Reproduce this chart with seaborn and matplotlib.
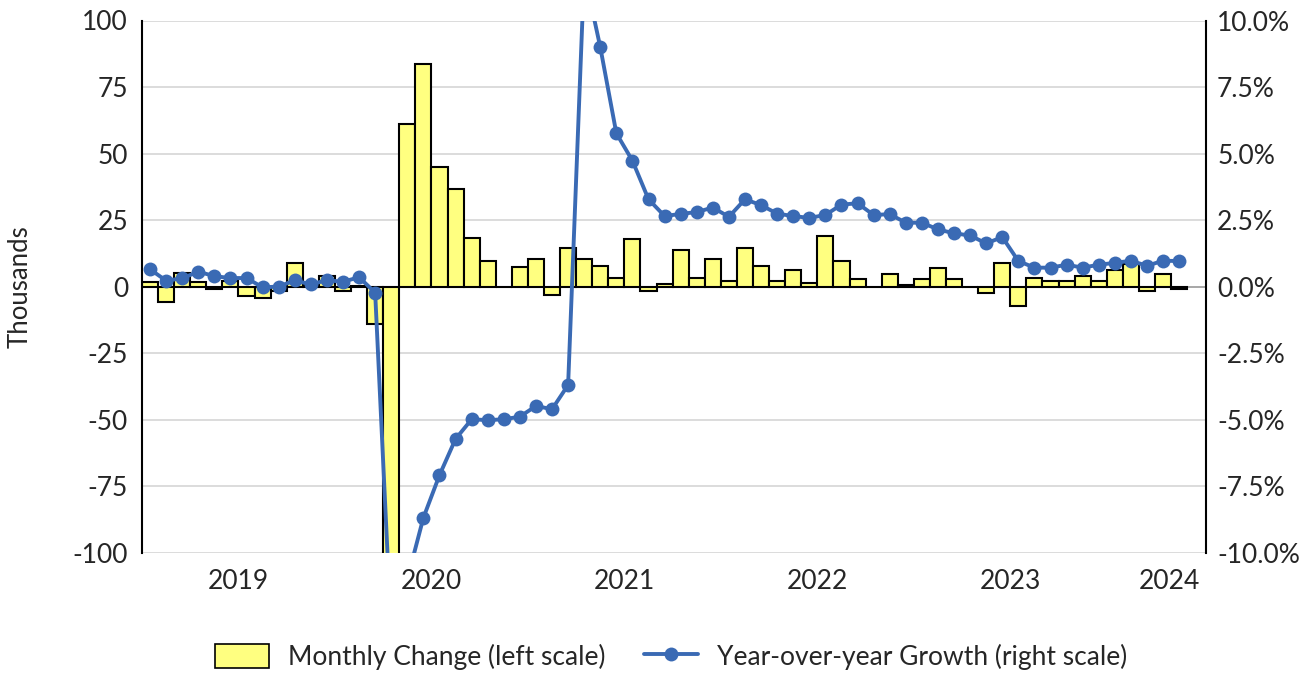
import numpy as np
import pandas as pd
import matplotlib
matplotlib.use("Agg")
import matplotlib.pyplot as plt
import seaborn as sns
from matplotlib.patches import Patch
from matplotlib.lines import Line2D

# monthly data, Jan 2019 .. May 2024
months = pd.date_range("2019-01-01", periods=65, freq="MS")

# monthly change, thousands (Apr 2020 is far below the -100 floor)
monthly_change = [
    1.6, -5.7, 5.0, 1.6, -1.0, 2.0, -3.5, -4.2, -1.5, 8.7, 0.5, 3.8,
    -1.8, 0.3, -14.0, -190.0, 61.0, 83.5, 44.9, 36.8, 18.4, 9.6, 0.0, 7.2,
    10.3, -3.3, 14.4, 10.3, 7.8, 3.1, 17.7, -1.7, 0.8, 13.7, 3.1, 10.3,
    2.2, 14.4, 7.8, 2.2, 6.2, 1.2, 19.0, 9.6, 2.8, 0.0, 4.6, 0.4,
    2.9, 7.1, 2.9, 0.0, -2.6, 8.7, -7.3, 3.1, 2.1, 2.1, 3.8, 2.1,
    6.2, 8.5, -1.7, 4.7, -0.8,
]

# year-over-year growth, percent
yoy_growth = [
    0.65, 0.22, 0.31, 0.56, 0.39, 0.32, 0.32, -0.03, 0.00, 0.23, 0.08, 0.24,
    0.18, 0.35, -0.23, -13.0, -11.0, -8.69, -7.09, -5.73, -4.99, -5.02, -4.99, -4.89,
    -4.49, -4.61, -3.70, 11.8, 9.0, 5.76, 4.73, 3.28, 2.65, 2.73, 2.80, 2.97,
    2.62, 3.28, 3.06, 2.74, 2.65, 2.58, 2.69, 3.08, 3.13, 2.69, 2.72, 2.40,
    2.40, 2.15, 2.00, 1.92, 1.62, 1.86, 0.96, 0.71, 0.71, 0.82, 0.71, 0.82,
    0.89, 0.97, 0.78, 0.97, 0.96,
]

left_ticks = [100, 75, 50, 25, 0, -25, -50, -75, -100]
right_ticks = [10.0, 7.5, 5.0, 2.5, 0.0, -2.5, -5.0, -7.5, -10.0]

BAR_COLOR = "#FFFF80"
LINE_COLOR = "#3A6AB4"
FS = 19

df = pd.DataFrame({"month": months, "change": monthly_change, "yoy": yoy_growth})
df["idx"] = np.arange(len(df))
df["year"] = df["month"].dt.year

sns.set_style("white")
plt.rcParams["font.family"] = ["Lato", "DejaVu Sans"]

fig = plt.figure(figsize=(13.04, 6.73), dpi=100)
ax = fig.add_axes([142 / 1304, 1 - 552.6 / 673, (1206 - 142) / 1304, (552.6 - 20.5) / 673])

for t in left_ticks:
    if t != 0:
        ax.axhline(t, color="#D9D9D9", lw=1.3, zorder=0)
ax.axhline(0, color="#A0A0A0", lw=1.3, zorder=0.5)

sns.barplot(data=df, x="idx", y="change", color=BAR_COLOR, edgecolor="black",
            linewidth=1.5, width=1.0, saturation=1, ax=ax, zorder=2)

ax.set_ylim(-100, 100)
ax.set_yticks(left_ticks)
ax.set_yticklabels([f"{t:d}" for t in left_ticks])
ax.set_ylabel("Thousands", fontsize=18.5)
ax.yaxis.set_label_coords(-0.103, 0.5)
ax.set_xlabel("")

ax2 = ax.twinx()
sns.lineplot(data=df, x="idx", y="yoy", color=LINE_COLOR, lw=2.8, marker="o",
             markersize=10, markeredgewidth=0, ax=ax2)
ax2.set_ylim(-10, 10)
ax2.set_yticks(right_ticks)
ax2.set_yticklabels([f"{t:.1f}%" for t in right_ticks])
ax2.set_ylabel("")

# year labels centred on each year's months; the partial last year sits further right
year_pos = df.groupby("year")["idx"].agg(lambda s: (s.min() + s.max()) / 2)
year_pos.iloc[-1] += 1.4
ax.set_xticks(year_pos.values)
ax.set_xticklabels([str(y) for y in year_pos.index])
ax.set_xlim(-0.5, 65.67)

for a in (ax, ax2):
    a.tick_params(axis="both", length=0, labelsize=FS)
    for s in ("top", "bottom"):
        a.spines[s].set_visible(False)
    a.spines["left"].set_color("black")
    a.spines["right"].set_color("black")
    a.spines["left"].set_linewidth(1.5)
    a.spines["right"].set_linewidth(1.5)
    a.grid(False)
ax.tick_params(axis="y", pad=10)
ax2.tick_params(axis="y", pad=8)
ax.tick_params(axis="x", pad=12)
ax.spines["right"].set_visible(False)
ax2.spines["left"].set_visible(False)

handles = [
    Patch(facecolor=BAR_COLOR, edgecolor="black", linewidth=1.2),
    Line2D([0], [0], color=LINE_COLOR, lw=2.8, marker="o", markersize=10, markeredgewidth=0),
]
fig.legend(handles, ["Monthly Change (left scale)", "Year-over-year Growth (right scale)"],
           loc="center", bbox_to_anchor=(671 / 1304, 1 - 657 / 673), ncol=2, frameon=False,
           fontsize=FS, handlelength=2.05, handleheight=1.05, columnspacing=1.45,
           handletextpad=0.72)

fig.savefig("out.png", dpi=100)
